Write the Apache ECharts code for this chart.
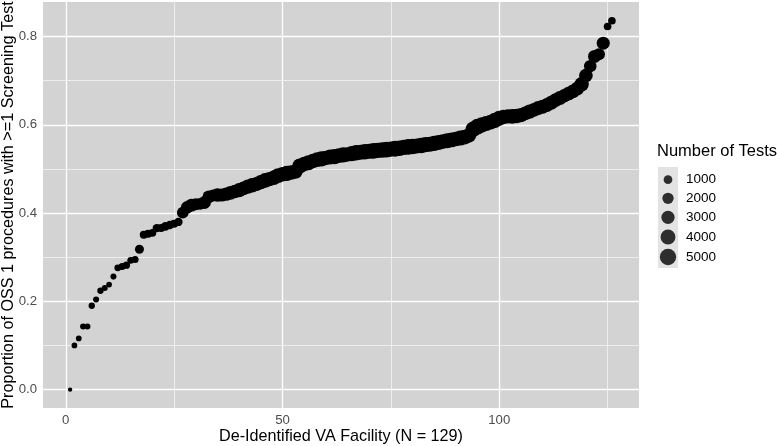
<!DOCTYPE html>
<html><head><meta charset="utf-8">
<script src="https://cdn.jsdelivr.net/npm/echarts@6/dist/echarts.min.js"></script>
<style>html,body{margin:0;padding:0;background:#fff}#c{width:777px;height:446px}</style>
</head><body><div id="c"></div>
<script>
// De-identified facility index (x)
const facility = [1,2,3,4,5,6,7,8,9,10,11,12,13,14,15,16,17,18,19,20,21,22,23,24,25,26,27,28,29,30,
31,32,33,34,35,36,37,38,39,40,41,42,43,44,45,46,47,48,49,50,51,52,53,54,55,56,57,58,59,60,
61,62,63,64,65,66,67,68,69,70,71,72,73,74,75,76,77,78,79,80,81,82,83,84,85,86,87,88,89,90,
91,92,93,94,95,96,97,98,99,100,101,102,103,104,105,106,107,108,109,110,111,112,113,114,115,116,117,118,119,120,
121,122,123,124,125,126];
// Proportion of OSS 1 procedures with >=1 screening test (y)
const proportion = [0.000,0.100,0.116,0.143,0.143,0.190,0.204,0.224,0.230,0.238,
0.256,0.276,0.279,0.282,0.293,0.295,0.318,0.351,0.353,0.355,
0.366,0.366,0.370,0.373,0.376,0.380,0.401,0.413,0.418,0.420,
0.421,0.424,0.437,0.440,0.441,0.441,0.443,0.446,0.449,0.452,
0.456,0.460,0.463,0.466,0.470,0.474,0.477,0.480,0.485,0.488,
0.490,0.492,0.494,0.507,0.511,0.514,0.518,0.521,0.523,0.525,
0.527,0.528,0.530,0.532,0.533,0.535,0.537,0.538,0.539,0.540,
0.541,0.542,0.543,0.544,0.545,0.546,0.547,0.549,0.550,0.551,
0.552,0.553,0.555,0.556,0.558,0.560,0.562,0.564,0.566,0.568,
0.570,0.572,0.576,0.590,0.596,0.600,0.603,0.606,0.610,0.615,
0.618,0.619,0.619,0.620,0.622,0.626,0.630,0.634,0.638,0.641,
0.645,0.650,0.656,0.661,0.666,0.671,0.676,0.682,0.692,0.712,
0.733,0.755,0.760,0.785,0.823,0.836];
// Number of tests per facility (point size)
const tests = [150,300,300,350,350,400,350,400,350,300,
350,500,550,600,500,550,1100,800,800,700,
900,800,1000,900,800,900,2200,2600,2800,2400,
2200,2800,2600,2400,3200,2900,3100,3300,3200,3500,
3300,3600,3800,3400,3700,3900,3600,3800,4000,3700,
4100,3800,3600,4000,3800,4100,3700,3900,4200,3800,
4000,4300,3900,4100,3800,4200,4400,4000,4300,4100,
4500,4200,4400,4600,4300,4700,4400,4200,4500,4300,
4100,4400,4200,4000,4300,4100,3900,4200,4000,3800,
4100,3900,3800,4400,4600,4300,4100,3900,4200,4000,
3800,3600,3900,3700,3500,3400,3600,3300,3500,3400,
3300,3500,3200,3400,3100,3300,3200,3400,3700,3200,
2600,2900,2400,2900,700,700];
// Size legend breaks
const sizeBreaks = [1000,2000,3000,4000,5000];
const xTicks = [0,50,100];
const yTicks = [0,0.2,0.4,0.6,0.8];
const xGridMajor = [0,50,100];
const xGridMinor = [25,75,125];
const yGridMajor = [0,0.2,0.4,0.6,0.8];
const yGridMinor = [0.1,0.3,0.5,0.7];

const N_MIN = 100, N_MAX = 5500;
function diam(n){ const t = Math.max(0,(n-N_MIN)/(N_MAX-N_MIN)); return 3 + 14*Math.sqrt(t); }

const chart = echarts.init(document.getElementById('c'));
const font = '"Liberation Sans", Arial, sans-serif';
const points = facility.map((f,i)=>[f, proportion[i], tests[i]]);

const gridMark = [];
xGridMinor.forEach(v=>gridMark.push({xAxis:v, lineStyle:{width:0.6}}));
yGridMinor.forEach(v=>gridMark.push({yAxis:v, lineStyle:{width:0.6}}));
xGridMajor.forEach(v=>gridMark.push({xAxis:v, lineStyle:{width:1.3}}));
yGridMajor.forEach(v=>gridMark.push({yAxis:v, lineStyle:{width:1.3}}));

const legendCx = 668, legendTop0 = 177, legendStep = 20, labelX = 686;
const legends = sizeBreaks.map((b,k)=>{
  const d = diam(b);
  return {
    data:[String(b)], icon:'circle', itemWidth:d, itemHeight:d,
    left: legendCx - d/2, top: legendTop0 + k*legendStep - d/2,
    padding:0, itemGap:0, selectedMode:false,
    textStyle:{fontFamily:font, fontSize:13.5, color:'#000',
      padding:[0,0,0, labelX - (legendCx + d/2) - 5]}
  };
});

const series = [
  {type:'line', data:[], silent:true, z:1,
   markLine:{silent:true, z:1, symbol:['none','none'], label:{show:false},
     lineStyle:{color:'#ffffff', type:'solid'}, emphasis:{disabled:true}, data:gridMark}},
  {type:'scatter', name:'points', data:points, z:3,
   symbolSize: v => diam(v[2]),
   itemStyle:{color:'#000000', opacity:1}}
];
sizeBreaks.forEach(b=>series.push({type:'scatter', name:String(b), data:[], itemStyle:{color:'#000'}}));

chart.setOption({
  animation:false,
  backgroundColor:'#ffffff',
  title:{text:'Number of Tests', left:657, top:143, padding:0,
    textStyle:{fontFamily:font, fontSize:16.5, fontWeight:'normal', color:'#000'}},
  graphic:[{type:'rect', left:658, top:167, shape:{width:20, height:101}, style:{fill:'#e3e3e3'}, z:-1}],
  legend: legends,
  grid:{left:43, top:2, right:138, bottom:38, show:true, backgroundColor:'#d3d3d3', borderWidth:0,
    outerBoundsMode:'none', containLabel:false},
  xAxis:{type:'value', min:-5.25, max:132.25,
    name:'De-Identified VA Facility (N = 129)', nameLocation:'middle', nameGap:21, nameMoveOverlap:false,
    nameTextStyle:{fontFamily:font, fontSize:16.2, color:'#000'},
    axisLine:{show:false},
    axisTick:{show:true, length:3, customValues:xTicks, lineStyle:{color:'#333'}},
    axisLabel:{customValues:xTicks, margin:6, fontFamily:font, fontSize:13.2, color:'#4d4d4d'},
    splitLine:{show:false}},
  yAxis:{type:'value', min:-0.0418, max:0.8785,
    name:'Proportion of OSS 1 procedures with >=1 Screening Test', nameLocation:'middle', nameGap:26, nameMoveOverlap:false,
    nameTextStyle:{fontFamily:font, fontSize:16.2, color:'#000'},
    axisLine:{show:false},
    axisTick:{show:true, length:3, customValues:yTicks, lineStyle:{color:'#333'}},
    axisLabel:{customValues:yTicks, margin:6, fontFamily:font, fontSize:13.2, color:'#4d4d4d',
      formatter: v => v.toFixed(1)},
    splitLine:{show:false}},
  series: series
});
</script></body></html>
